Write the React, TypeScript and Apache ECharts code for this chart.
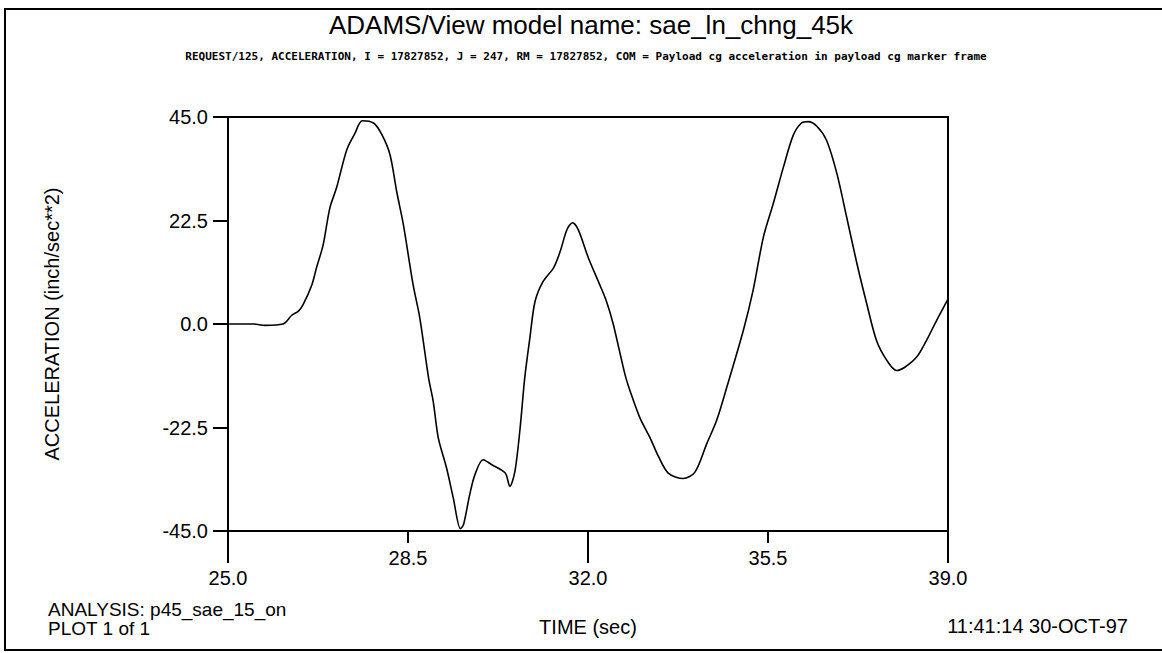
import React, { useEffect, useRef } from 'react';
import * as echarts from 'echarts';

const timeSec = [
  25.0, 25.5, 25.72, 26.07, 26.24, 26.37, 26.46, 26.63, 26.72, 26.85, 26.98, 27.11, 27.31, 27.47, 27.61,
  27.83, 27.99, 28.15, 28.28, 28.41, 28.6, 28.73, 28.9, 28.99, 29.09, 29.25, 29.38, 29.52, 29.58, 29.7,
  29.8, 29.96, 30.13, 30.39, 30.48, 30.58, 30.68, 30.77, 30.87, 30.97, 31.13, 31.33, 31.46, 31.59, 31.7,
  31.81, 32.01, 32.23, 32.36, 32.49, 32.72, 32.82, 33.01, 33.21, 33.37, 33.56, 33.85, 34.08, 34.31, 34.5,
  34.7, 35.02, 35.21, 35.41, 35.6, 35.8, 35.99, 36.15, 36.28, 36.45, 36.64, 36.84, 37.03, 37.23, 37.42,
  37.61, 37.81, 38.0, 38.16, 38.39, 38.58, 38.78, 39.0,
];
const acceleration = [
  0, 0, -0.3, 0, 1.9, 2.8, 4.2, 8.5, 12.2, 17.2, 25.2, 29.6, 37.9, 41.5, 44.2,
  43.7, 41.2, 36.8, 28.8, 21.6, 8.5, 1.3, -11.7, -16.8, -24.8, -31.3, -37.8, -44.5, -43.6, -37.1,
  -32.8, -29.5, -30.6, -32.4, -35.3, -32.0, -22.6, -11.7, -3.0, 4.9, 9.3, 12.2, 15.8, 20.5, 22.0,
  20.5, 14.3, 8.5, 4.9, 0, -11.0, -14.6, -20.4, -24.8, -28.8, -32.4, -33.6, -32.2, -26.0, -21.0,
  -13.7, -1.4, 7.3, 18.9, 26.1, 34.1, 41.0, 43.7, 44.0, 43.0, 39.9, 32.7, 23.2, 13.1, 4.4,
  -3.6, -7.9, -10.1, -9.4, -7.2, -3.6, 0.8, 5.4,
];
const xMajorTicks = [25, 32, 39];
const xMinorTicks = [28.5, 35.5];
const yTicks = [-45, -22.5, 0, 22.5, 45];

const titleText = 'ADAMS/View model name: sae_ln_chng_45k';
const requestText =
  'REQUEST/125, ACCELERATION, I = 17827852, J = 247, RM = 17827852, COM = Payload cg acceleration in payload cg marker frame';
const yAxisName = 'ACCELERATION (inch/sec**2)';
const xAxisName = 'TIME (sec)';
const analysisText = 'ANALYSIS: p45_sae_15_on';
const plotText = 'PLOT 1 of 1';
const dateText = '11:41:14 30-OCT-97';

const FONT = "'Liberation Sans', Arial, Helvetica, sans-serif";

export default function App() {
  const ref = useRef<HTMLDivElement>(null);
  useEffect(() => {
    if (!ref.current) return;
    const chart = echarts.init(ref.current, null, { renderer: 'svg' });
    const fmt = (v: number) => Number(v).toFixed(1);
    const labelStyle = { color: '#000', fontSize: 20, fontFamily: FONT };
    chart.setOption({
      animation: false,
      backgroundColor: '#fff',
      title: [
        {
          text: titleText,
          left: 591,
          top: 12,
          textAlign: 'center',
          padding: 0,
          textStyle: { color: '#000', fontSize: 26, fontWeight: 'normal', fontFamily: FONT },
        },
        {
          text: requestText,
          left: 586,
          top: 51,
          textAlign: 'center',
          padding: 0,
          textStyle: { color: '#000', fontSize: 11, fontWeight: 'bold', fontFamily: "'DejaVu Sans Mono', monospace" },
        },
      ],
      grid: {
        left: 228,
        top: 117,
        width: 720,
        height: 414,
        show: true,
        borderColor: '#000',
        borderWidth: 2,
        backgroundColor: 'transparent',
      },
      xAxis: [
        {
          type: 'value',
          min: 25,
          max: 39,
          position: 'bottom',
          name: xAxisName,
          nameLocation: 'middle',
          nameGap: 86,
          nameTextStyle: labelStyle,
          axisLine: { show: true, onZero: false, lineStyle: { color: '#000', width: 2 } },
          axisTick: { show: true, customValues: xMajorTicks, length: 32, lineStyle: { color: '#000', width: 2 } },
          axisLabel: { customValues: xMajorTicks, formatter: fmt, margin: 37, ...labelStyle },
          splitLine: { show: false },
        },
        {
          type: 'value',
          min: 25,
          max: 39,
          position: 'bottom',
          axisLine: { show: false, onZero: false },
          axisTick: { show: true, customValues: xMinorTicks, length: 12, lineStyle: { color: '#000', width: 2 } },
          axisLabel: { customValues: xMinorTicks, formatter: fmt, margin: 17, ...labelStyle },
          splitLine: { show: false },
        },
      ],
      yAxis: {
        type: 'value',
        min: -45,
        max: 45,
        name: yAxisName,
        nameLocation: 'middle',
        nameGap: 166,
        nameTextStyle: labelStyle,
        axisLine: { show: true, onZero: false, lineStyle: { color: '#000', width: 2 } },
        axisTick: { show: true, customValues: yTicks, length: 15, lineStyle: { color: '#000', width: 2 } },
        axisLabel: { customValues: yTicks, formatter: fmt, margin: 20, ...labelStyle },
        splitLine: { show: false },
      },
      series: [
        {
          type: 'line',
          xAxisIndex: 0,
          yAxisIndex: 0,
          data: timeSec.map((t, i) => [t, acceleration[i]]),
          showSymbol: false,
          smooth: 0.3,
          lineStyle: { color: '#000', width: 1.6 },
        },
      ],
      graphic: [
        {
          type: 'rect',
          silent: true,
          shape: { x: 5, y: 9, width: 1200, height: 641 },
          style: { fill: 'none', stroke: '#000', lineWidth: 2 },
        },
        {
          type: 'text',
          x: 48,
          y: 619,
          style: {
            text: `${analysisText}\n${plotText}`,
            fill: '#000',
            font: `19px ${FONT}`,
            lineHeight: 19,
            textAlign: 'left',
            textVerticalAlign: 'middle',
          },
        },
        {
          type: 'text',
          x: 1128,
          y: 626,
          style: { text: dateText, fill: '#000', font: `20px ${FONT}`, textAlign: 'right', textVerticalAlign: 'middle' },
        },
      ],
    });
    return () => chart.dispose();
  }, []);
  return <div ref={ref} style={{ position: 'absolute', left: 0, top: 0, width: 1162, height: 653 }} />;
}
